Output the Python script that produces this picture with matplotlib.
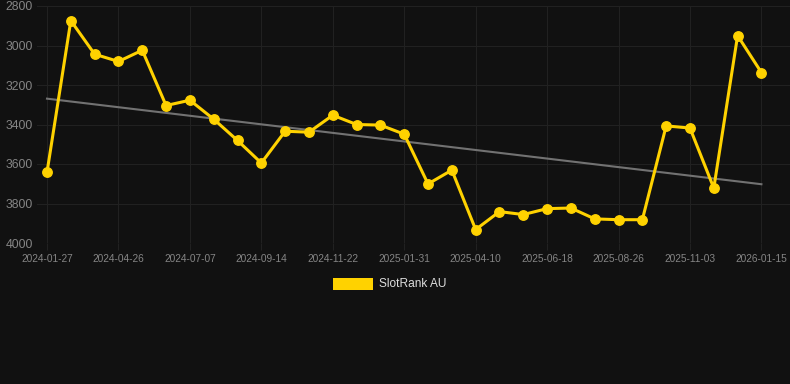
import numpy as np
import matplotlib
matplotlib.use("Agg")
import matplotlib.pyplot as plt
from matplotlib.patches import Rectangle

plt.rcParams['font.family'] = ['Liberation Sans', 'DejaVu Sans']

dates = ["2024-01-27", "", "", "2024-04-26", "", "", "2024-07-07", "", "", "2024-09-14", "", "",
         "2024-11-22", "", "", "2025-01-31", "", "", "2025-04-10", "", "", "2025-06-18", "", "",
         "2025-08-26", "", "", "2025-11-03", "", "", "2026-01-15"]
rank = [3642, 2874, 3044, 3081, 3024, 3304, 3277, 3373, 3481, 3595,
        3434, 3439, 3353, 3400, 3403, 3449, 3701, 3631, 3932, 3841,
        3856, 3826, 3823, 3878, 3882, 3882, 3407, 3418, 3722, 2950, 3137]
series_name = "SlotRank AU"
y_ticks = [2800, 3000, 3200, 3400, 3600, 3800, 4000]

BG = '#111111'
YEL = '#FFD200'
GRID = '#212121'
TXT = '#858585'

fig = plt.figure(figsize=(7.9, 3.84), dpi=100, facecolor=BG)
ax = fig.add_axes([37/790, 1-243/384, 1-37/790, (243-6)/384], facecolor=BG)

x = np.arange(len(rank))
coef = np.polyfit(x, rank, 1)
ax.plot(x, np.polyval(coef, x), color='#727272', lw=1.5, zorder=2)
ax.plot(x, rank, color=YEL, lw=2.2, marker='o', markersize=6.8, zorder=3)

ax.set_ylim(4000, 2800)
ax.set_xlim(-0.42, 31.2)
ax.set_yticks(y_ticks)
tick_idx = [i for i, d in enumerate(dates) if d]
ax.set_xticks(tick_idx)
ax.set_xticklabels([dates[i] for i in tick_idx])
ax.grid(True, color=GRID, lw=0.8, zorder=0)
for s in ax.spines.values():
    s.set_visible(False)
ax.tick_params(axis='x', colors=TXT, labelsize=7.3, length=5, width=0.8, pad=3, color=GRID)
ax.tick_params(axis='y', colors=TXT, labelsize=8.8, length=0, pad=3)

fig.patches.append(Rectangle((333/790, 1-290/384), 40/790, 12/384,
                             transform=fig.transFigure, facecolor=YEL, edgecolor='none'))
fig.text(379/790, 1-284/384, series_name, color='#dddddd', fontsize=8.6, va='center', ha='left')

fig.savefig('out.png', dpi=100, facecolor=BG)
